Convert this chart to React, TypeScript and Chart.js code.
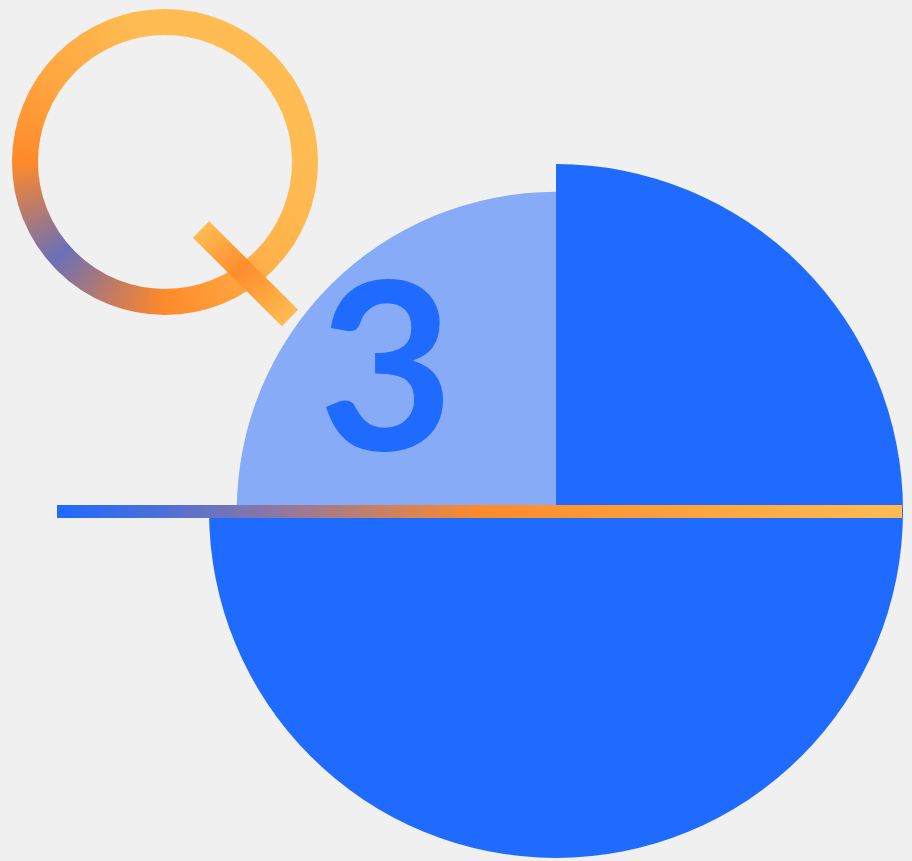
import React, { useEffect, useRef } from "react";
import { Chart, registerables } from "chart.js";

Chart.register(...registerables);

const categories = ["Q3 upper right", "Q3 lower right", "Q3 lower left", "Q3 upper left"];
const values = [100, 100, 100, 92];
const segmentColors = ["#1F6AFF", "#1F6AFF", "#1F6AFF", "#87ABF7"];
const scaleMax = 100;
const centerLabel = "3";

const BG = "#F0F0F0";
const LABEL_FONT = "bold 234px Lato";

const decorPlugin = {
  id: "decor",
  beforeDraw(chart: any) {
    const { ctx, width, height } = chart;
    ctx.save();
    ctx.fillStyle = BG;
    ctx.fillRect(0, 0, width, height);
    ctx.restore();
  },
  afterDatasetsDraw(chart: any) {
    const { ctx } = chart;
    const r = chart.scales.r;
    const cx = r.xCenter;
    const cy = r.yCenter;
    const R = r.drawingArea;

    // "3" label
    ctx.save();
    ctx.fillStyle = "#1F6AFF";
    ctx.font = LABEL_FONT;
    ctx.textAlign = "center";
    ctx.textBaseline = "alphabetic";
    ctx.fillText(centerLabel, cx - 170, cy - 61);
    ctx.restore();

    // horizontal gradient line
    const x0 = 57;
    const x1 = cx + R - 1;
    const g = ctx.createLinearGradient(x0, 0, x1, 0);
    g.addColorStop(0, "#1F6AFF");
    g.addColorStop(0.12, "#4C6FD8");
    g.addColorStop(0.25, "#8A76A6");
    g.addColorStop(0.5, "#FF8A2A");
    g.addColorStop(1, "#FFBC52");
    ctx.save();
    ctx.fillStyle = g;
    ctx.fillRect(x0, cy - 6, x1 - x0, 13);
    ctx.restore();

    // Q ring
    const qx = 165;
    const qy = 162;
    const qr = 140;
    ctx.save();
    const cg = (ctx as any).createConicGradient(0, qx, qy);
    cg.addColorStop(0, "#FFBC52");
    cg.addColorStop(0.12, "#FFB24A");
    cg.addColorStop(0.25, "#FF8A2A");
    cg.addColorStop(0.31, "#C47B60");
    cg.addColorStop(0.385, "#6A70B6");
    cg.addColorStop(0.45, "#C07C66");
    cg.addColorStop(0.5, "#FF8A2A");
    cg.addColorStop(0.6, "#FFA640");
    cg.addColorStop(0.72, "#FFBC52");
    cg.addColorStop(1, "#FFBC52");
    ctx.strokeStyle = cg;
    ctx.lineWidth = 26;
    ctx.beginPath();
    ctx.arc(qx, qy, qr, 0, Math.PI * 2);
    ctx.stroke();

    // Q tail
    const tx0 = 201, ty0 = 229.5, tx1 = 290, ty1 = 318;
    const tg = ctx.createLinearGradient(tx0, ty0, tx1, ty1);
    tg.addColorStop(0, "#FFBC52");
    tg.addColorStop(0.45, "#FF8C2C");
    tg.addColorStop(1, "#FFBC52");
    ctx.strokeStyle = tg;
    ctx.lineWidth = 23;
    ctx.lineCap = "butt";
    ctx.beginPath();
    ctx.moveTo(tx0, ty0);
    ctx.lineTo(tx1, ty1);
    ctx.stroke();
    ctx.restore();
  },
};

export default function App() {
  const ref = useRef<HTMLCanvasElement | null>(null);

  useEffect(() => {
    document.body.style.margin = "0";
    document.body.style.background = BG;
    let chart: Chart | null = null;
    let cancelled = false;
    const build = () => {
      const canvas = ref.current;
      if (!canvas || cancelled) return;
      chart = new Chart(canvas, {
        type: "polarArea",
        data: {
          labels: categories,
          datasets: [
            {
              data: values,
              backgroundColor: segmentColors,
              borderWidth: 0,
              hoverBackgroundColor: segmentColors,
            },
          ],
        },
        options: {
          responsive: false,
          animation: false,
          devicePixelRatio: 1,
          layout: { padding: { left: 209, right: 9, top: 164, bottom: 3 } },
          plugins: {
            legend: { display: false },
            tooltip: { enabled: false },
          },
          scales: {
            r: {
              display: false,
              min: 0,
              max: scaleMax,
              ticks: { display: false },
              grid: { display: false },
              angleLines: { display: false },
              pointLabels: { display: false },
            },
          },
        },
        plugins: [decorPlugin],
      });
    };
    const fonts: any = (document as any).fonts;
    if (fonts && fonts.load) {
      fonts.load(LABEL_FONT, centerLabel).then(build, build);
    } else {
      build();
    }
    return () => {
      cancelled = true;
      if (chart) chart.destroy();
    };
  }, []);

  return (
    <div style={{ position: "absolute", left: 0, top: 0, width: 912, height: 861 }}>
      <canvas ref={ref} width={912} height={861} style={{ display: "block" }} />
    </div>
  );
}
